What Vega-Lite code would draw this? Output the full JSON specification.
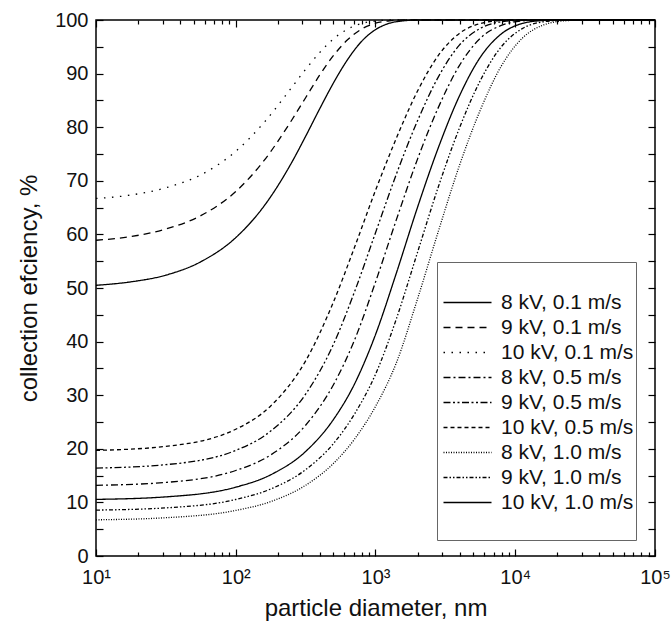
{
  "$schema": "https://vega.github.io/schema/vega-lite/v6.json",
  "width": 559,
  "height": 536,
  "autosize": {"type": "none"},
  "padding": {"left": 96, "top": 20, "right": 16, "bottom": 68},
  "config": {
    "view": {"stroke": "#000", "strokeWidth": 1.5},
    "font": "Liberation Sans",
    "axis": {"grid": false, "domain": false, "tickColor": "#000", "tickWidth": 1.2, "labelColor": "#111", "titleColor": "#111", "titleFontWeight": "normal", "labelFont": "Liberation Sans", "titleFont": "Liberation Sans"}
  },
  "datasets": {
    "curves": [
      {"s": "8 kV, 0.1 m/s", "d": 10, "v": 50.5},
      {"s": "8 kV, 0.1 m/s", "d": 17.78, "v": 51.15},
      {"s": "8 kV, 0.1 m/s", "d": 31.62, "v": 52.4},
      {"s": "8 kV, 0.1 m/s", "d": 56.23, "v": 54.9},
      {"s": "8 kV, 0.1 m/s", "d": 100, "v": 59.4},
      {"s": "8 kV, 0.1 m/s", "d": 158.5, "v": 65.2},
      {"s": "8 kV, 0.1 m/s", "d": 251.2, "v": 73.4},
      {"s": "8 kV, 0.1 m/s", "d": 316.2, "v": 78.3},
      {"s": "8 kV, 0.1 m/s", "d": 398.1, "v": 83.4},
      {"s": "8 kV, 0.1 m/s", "d": 501.2, "v": 88.3},
      {"s": "8 kV, 0.1 m/s", "d": 631, "v": 92.6},
      {"s": "8 kV, 0.1 m/s", "d": 794.3, "v": 96.0},
      {"s": "8 kV, 0.1 m/s", "d": 1000, "v": 98.2},
      {"s": "8 kV, 0.1 m/s", "d": 1259, "v": 99.4},
      {"s": "8 kV, 0.1 m/s", "d": 1585, "v": 99.85},
      {"s": "8 kV, 0.1 m/s", "d": 1995, "v": 100},
      {"s": "8 kV, 0.1 m/s", "d": 100000, "v": 100},

      {"s": "9 kV, 0.1 m/s", "d": 10, "v": 58.9},
      {"s": "9 kV, 0.1 m/s", "d": 17.78, "v": 59.6},
      {"s": "9 kV, 0.1 m/s", "d": 31.62, "v": 61.0},
      {"s": "9 kV, 0.1 m/s", "d": 56.23, "v": 63.5},
      {"s": "9 kV, 0.1 m/s", "d": 100, "v": 68.0},
      {"s": "9 kV, 0.1 m/s", "d": 158.5, "v": 73.7},
      {"s": "9 kV, 0.1 m/s", "d": 251.2, "v": 81.3},
      {"s": "9 kV, 0.1 m/s", "d": 316.2, "v": 85.5},
      {"s": "9 kV, 0.1 m/s", "d": 398.1, "v": 89.7},
      {"s": "9 kV, 0.1 m/s", "d": 501.2, "v": 93.4},
      {"s": "9 kV, 0.1 m/s", "d": 631, "v": 96.3},
      {"s": "9 kV, 0.1 m/s", "d": 794.3, "v": 98.3},
      {"s": "9 kV, 0.1 m/s", "d": 1000, "v": 99.4},
      {"s": "9 kV, 0.1 m/s", "d": 1259, "v": 99.84},
      {"s": "9 kV, 0.1 m/s", "d": 1585, "v": 100},
      {"s": "9 kV, 0.1 m/s", "d": 100000, "v": 100},

      {"s": "10 kV, 0.1 m/s", "d": 10, "v": 66.7},
      {"s": "10 kV, 0.1 m/s", "d": 17.78, "v": 67.35},
      {"s": "10 kV, 0.1 m/s", "d": 31.62, "v": 68.7},
      {"s": "10 kV, 0.1 m/s", "d": 56.23, "v": 71.1},
      {"s": "10 kV, 0.1 m/s", "d": 100, "v": 75.5},
      {"s": "10 kV, 0.1 m/s", "d": 158.5, "v": 80.8},
      {"s": "10 kV, 0.1 m/s", "d": 251.2, "v": 87.4},
      {"s": "10 kV, 0.1 m/s", "d": 316.2, "v": 90.8},
      {"s": "10 kV, 0.1 m/s", "d": 398.1, "v": 93.9},
      {"s": "10 kV, 0.1 m/s", "d": 501.2, "v": 96.5},
      {"s": "10 kV, 0.1 m/s", "d": 631, "v": 98.3},
      {"s": "10 kV, 0.1 m/s", "d": 794.3, "v": 99.35},
      {"s": "10 kV, 0.1 m/s", "d": 1000, "v": 99.8},
      {"s": "10 kV, 0.1 m/s", "d": 1259, "v": 100},
      {"s": "10 kV, 0.1 m/s", "d": 100000, "v": 100},

      {"s": "10 kV, 0.5 m/s", "d": 10, "v": 19.7},
      {"s": "10 kV, 0.5 m/s", "d": 31.62, "v": 20.45},
      {"s": "10 kV, 0.5 m/s", "d": 100, "v": 23.65},
      {"s": "10 kV, 0.5 m/s", "d": 177.8, "v": 28.0},
      {"s": "10 kV, 0.5 m/s", "d": 316.2, "v": 36.4},
      {"s": "10 kV, 0.5 m/s", "d": 501.2, "v": 47.45},
      {"s": "10 kV, 0.5 m/s", "d": 707.9, "v": 57.6},
      {"s": "10 kV, 0.5 m/s", "d": 1000, "v": 68.2},
      {"s": "10 kV, 0.5 m/s", "d": 1413, "v": 78.0},
      {"s": "10 kV, 0.5 m/s", "d": 1995, "v": 86.7},
      {"s": "10 kV, 0.5 m/s", "d": 2818, "v": 93.4},
      {"s": "10 kV, 0.5 m/s", "d": 3981, "v": 97.5},
      {"s": "10 kV, 0.5 m/s", "d": 5623, "v": 99.35},
      {"s": "10 kV, 0.5 m/s", "d": 7943, "v": 99.9},
      {"s": "10 kV, 0.5 m/s", "d": 11220, "v": 100},
      {"s": "10 kV, 0.5 m/s", "d": 100000, "v": 100},

      {"s": "9 kV, 0.5 m/s", "d": 10, "v": 16.4},
      {"s": "9 kV, 0.5 m/s", "d": 31.62, "v": 17.04},
      {"s": "9 kV, 0.5 m/s", "d": 100, "v": 19.7},
      {"s": "9 kV, 0.5 m/s", "d": 177.8, "v": 23.3},
      {"s": "9 kV, 0.5 m/s", "d": 316.2, "v": 30.2},
      {"s": "9 kV, 0.5 m/s", "d": 501.2, "v": 39.55},
      {"s": "9 kV, 0.5 m/s", "d": 707.9, "v": 49.3},
      {"s": "9 kV, 0.5 m/s", "d": 1000, "v": 60.3},
      {"s": "9 kV, 0.5 m/s", "d": 1413, "v": 71.3},
      {"s": "9 kV, 0.5 m/s", "d": 1995, "v": 81.15},
      {"s": "9 kV, 0.5 m/s", "d": 2818, "v": 89.4},
      {"s": "9 kV, 0.5 m/s", "d": 3981, "v": 95.3},
      {"s": "9 kV, 0.5 m/s", "d": 5623, "v": 98.45},
      {"s": "9 kV, 0.5 m/s", "d": 7943, "v": 99.67},
      {"s": "9 kV, 0.5 m/s", "d": 11220, "v": 99.96},
      {"s": "9 kV, 0.5 m/s", "d": 15849, "v": 100},
      {"s": "9 kV, 0.5 m/s", "d": 100000, "v": 100},

      {"s": "8 kV, 0.5 m/s", "d": 10, "v": 13.18},
      {"s": "8 kV, 0.5 m/s", "d": 31.62, "v": 13.73},
      {"s": "8 kV, 0.5 m/s", "d": 100, "v": 15.95},
      {"s": "8 kV, 0.5 m/s", "d": 177.8, "v": 18.85},
      {"s": "8 kV, 0.5 m/s", "d": 316.2, "v": 24.4},
      {"s": "8 kV, 0.5 m/s", "d": 501.2, "v": 32.0},
      {"s": "8 kV, 0.5 m/s", "d": 707.9, "v": 40.3},
      {"s": "8 kV, 0.5 m/s", "d": 1000, "v": 51.1},
      {"s": "8 kV, 0.5 m/s", "d": 1413, "v": 62.8},
      {"s": "8 kV, 0.5 m/s", "d": 1995, "v": 74.0},
      {"s": "8 kV, 0.5 m/s", "d": 2818, "v": 83.7},
      {"s": "8 kV, 0.5 m/s", "d": 3981, "v": 91.5},
      {"s": "8 kV, 0.5 m/s", "d": 5623, "v": 96.6},
      {"s": "8 kV, 0.5 m/s", "d": 7943, "v": 99.0},
      {"s": "8 kV, 0.5 m/s", "d": 11220, "v": 99.83},
      {"s": "8 kV, 0.5 m/s", "d": 15849, "v": 100},
      {"s": "8 kV, 0.5 m/s", "d": 100000, "v": 100},

      {"s": "10 kV, 1.0 m/s", "d": 10, "v": 10.56},
      {"s": "10 kV, 1.0 m/s", "d": 31.62, "v": 11.03},
      {"s": "10 kV, 1.0 m/s", "d": 100, "v": 12.84},
      {"s": "10 kV, 1.0 m/s", "d": 177.8, "v": 15.15},
      {"s": "10 kV, 1.0 m/s", "d": 316.2, "v": 19.5},
      {"s": "10 kV, 1.0 m/s", "d": 501.2, "v": 25.5},
      {"s": "10 kV, 1.0 m/s", "d": 707.9, "v": 32.1},
      {"s": "10 kV, 1.0 m/s", "d": 1000, "v": 41.3},
      {"s": "10 kV, 1.0 m/s", "d": 1413, "v": 52.85},
      {"s": "10 kV, 1.0 m/s", "d": 1995, "v": 65.0},
      {"s": "10 kV, 1.0 m/s", "d": 2818, "v": 76.2},
      {"s": "10 kV, 1.0 m/s", "d": 3981, "v": 85.8},
      {"s": "10 kV, 1.0 m/s", "d": 5623, "v": 93.05},
      {"s": "10 kV, 1.0 m/s", "d": 7943, "v": 97.4},
      {"s": "10 kV, 1.0 m/s", "d": 11220, "v": 99.35},
      {"s": "10 kV, 1.0 m/s", "d": 15849, "v": 99.9},
      {"s": "10 kV, 1.0 m/s", "d": 22387, "v": 100},
      {"s": "10 kV, 1.0 m/s", "d": 100000, "v": 100},

      {"s": "9 kV, 1.0 m/s", "d": 10, "v": 8.56},
      {"s": "9 kV, 1.0 m/s", "d": 31.62, "v": 8.98},
      {"s": "9 kV, 1.0 m/s", "d": 100, "v": 10.54},
      {"s": "9 kV, 1.0 m/s", "d": 177.8, "v": 12.5},
      {"s": "9 kV, 1.0 m/s", "d": 316.2, "v": 16.1},
      {"s": "9 kV, 1.0 m/s", "d": 501.2, "v": 21.0},
      {"s": "9 kV, 1.0 m/s", "d": 707.9, "v": 26.5},
      {"s": "9 kV, 1.0 m/s", "d": 1000, "v": 33.9},
      {"s": "9 kV, 1.0 m/s", "d": 1413, "v": 44.3},
      {"s": "9 kV, 1.0 m/s", "d": 1995, "v": 56.6},
      {"s": "9 kV, 1.0 m/s", "d": 2818, "v": 68.9},
      {"s": "9 kV, 1.0 m/s", "d": 3981, "v": 79.8},
      {"s": "9 kV, 1.0 m/s", "d": 5623, "v": 88.7},
      {"s": "9 kV, 1.0 m/s", "d": 7943, "v": 95.0},
      {"s": "9 kV, 1.0 m/s", "d": 11220, "v": 98.4},
      {"s": "9 kV, 1.0 m/s", "d": 15849, "v": 99.66},
      {"s": "9 kV, 1.0 m/s", "d": 22387, "v": 99.96},
      {"s": "9 kV, 1.0 m/s", "d": 31623, "v": 100},
      {"s": "9 kV, 1.0 m/s", "d": 100000, "v": 100},

      {"s": "8 kV, 1.0 m/s", "d": 10, "v": 6.75},
      {"s": "8 kV, 1.0 m/s", "d": 31.62, "v": 7.14},
      {"s": "8 kV, 1.0 m/s", "d": 100, "v": 8.5},
      {"s": "8 kV, 1.0 m/s", "d": 177.8, "v": 10.15},
      {"s": "8 kV, 1.0 m/s", "d": 316.2, "v": 13.2},
      {"s": "8 kV, 1.0 m/s", "d": 501.2, "v": 17.3},
      {"s": "8 kV, 1.0 m/s", "d": 707.9, "v": 21.8},
      {"s": "8 kV, 1.0 m/s", "d": 1000, "v": 27.9},
      {"s": "8 kV, 1.0 m/s", "d": 1413, "v": 36.1},
      {"s": "8 kV, 1.0 m/s", "d": 1995, "v": 47.9},
      {"s": "8 kV, 1.0 m/s", "d": 2818, "v": 60.6},
      {"s": "8 kV, 1.0 m/s", "d": 3981, "v": 72.8},
      {"s": "8 kV, 1.0 m/s", "d": 5623, "v": 83.2},
      {"s": "8 kV, 1.0 m/s", "d": 7943, "v": 91.4},
      {"s": "8 kV, 1.0 m/s", "d": 11220, "v": 96.6},
      {"s": "8 kV, 1.0 m/s", "d": 15849, "v": 99.06},
      {"s": "8 kV, 1.0 m/s", "d": 22387, "v": 99.84},
      {"s": "8 kV, 1.0 m/s", "d": 31623, "v": 100},
      {"s": "8 kV, 1.0 m/s", "d": 100000, "v": 100}
    ]
  },
  "data": {"name": "curves"},
  "layer": [
    {
      "mark": {"type": "point", "opacity": 0, "size": 0},
      "encoding": {
        "x": {"field": "d", "type": "quantitative", "scale": {"type": "log", "domain": [10, 100000], "nice": false},
          "axis": {"orient": "bottom", "values": [20,30,40,50,60,70,80,90,200,300,400,500,600,700,800,900,2000,3000,4000,5000,6000,7000,8000,9000,20000,30000,40000,50000,60000,70000,80000,90000], "tickSize": -4, "labels": false, "title": null}},
        "y": {"field": "v", "type": "quantitative", "scale": {"domain": [0, 100], "nice": false},
          "axis": {"orient": "left", "values": [5,15,25,35,45,55,65,75,85,95], "tickSize": -7, "labels": false, "title": null}}
      }
    },
    {
      "mark": {"type": "point", "opacity": 0, "size": 0},
      "encoding": {
        "x": {"field": "d", "type": "quantitative", "scale": {"type": "log", "domain": [10, 100000], "nice": false},
          "axis": {"orient": "top", "values": [10,100,1000,10000,100000], "tickSize": -7, "labels": false, "title": null}},
        "y": {"field": "v", "type": "quantitative", "scale": {"domain": [0, 100], "nice": false},
          "axis": {"orient": "right", "values": [0,10,20,30,40,50,60,70,80,90,100], "tickSize": -7, "labels": false, "title": null}}
      }
    },
    {
      "mark": {"type": "point", "opacity": 0, "size": 0},
      "encoding": {
        "x": {"field": "d", "type": "quantitative", "scale": {"type": "log", "domain": [10, 100000], "nice": false},
          "axis": {"orient": "top", "values": [20,30,40,50,60,70,80,90,200,300,400,500,600,700,800,900,2000,3000,4000,5000,6000,7000,8000,9000,20000,30000,40000,50000,60000,70000,80000,90000], "tickSize": -4, "labels": false, "title": null}},
        "y": {"field": "v", "type": "quantitative", "scale": {"domain": [0, 100], "nice": false},
          "axis": {"orient": "right", "values": [5,15,25,35,45,55,65,75,85,95], "tickSize": -7, "labels": false, "title": null}}
      }
    },
    {
      "mark": {"type": "line", "color": "#000", "strokeWidth": 1.3, "interpolate": "monotone"},
      "encoding": {
        "x": {"field": "d", "type": "quantitative", "scale": {"type": "log", "domain": [10, 100000], "nice": false},
          "axis": {"orient": "bottom", "values": [10,100,1000,10000,100000], "tickSize": -7, "labelPadding": 18, "labelFontSize": 20, "labelFlush": false,
            "labelExpr": "datum.value == 10 ? '10¹' : datum.value == 100 ? '10²' : datum.value == 1000 ? '10³' : datum.value == 10000 ? '10⁴' : '10⁵'",
            "title": "particle diameter, nm", "titleFontSize": 24, "titlePadding": 9}},
        "y": {"field": "v", "type": "quantitative", "scale": {"domain": [0, 100], "nice": false},
          "axis": {"orient": "left", "values": [0,10,20,30,40,50,60,70,80,90,100], "tickSize": -7, "labelPadding": 15, "labelFontSize": 20,
            "title": "collection efciency, %", "titleFontSize": 24, "titlePadding": 13}},
        "strokeDash": {"field": "s", "type": "nominal",
          "scale": {
            "domain": ["8 kV, 0.1 m/s", "9 kV, 0.1 m/s", "10 kV, 0.1 m/s", "8 kV, 0.5 m/s", "9 kV, 0.5 m/s", "10 kV, 0.5 m/s", "8 kV, 1.0 m/s", "9 kV, 1.0 m/s", "10 kV, 1.0 m/s", "                       "],
            "range": [[1, 0], [7, 5], [1.5, 6.5], [7, 3, 2, 3], [7, 2.5, 2, 2.5, 2, 2.5], [4, 3], [1, 1.5], [4, 2, 1.5, 2, 1.5, 2], [1, 0], [0, 200]]
          },
          "legend": {
            "orient": "none", "legendX": 341, "legendY": 242,
            "title": " ", "titleFontSize": 13, "titlePadding": 15,
            "padding": 2, "strokeColor": "#666", "fillColor": "#fff",
            "symbolType": "M-0.667,0H4.667", "symbolSize": 324, "symbolStrokeWidth": 1.3, "symbolStrokeColor": "#000",
            "labelFont": "Liberation Sans", "labelFontSize": 21, "labelOffset": 41, "rowPadding": 3, "labelColor": "#111", "labelLimit": 300
          }
        }
      }
    }
  ],
  "resolve": {"axis": {"x": "independent", "y": "independent"}}
}
